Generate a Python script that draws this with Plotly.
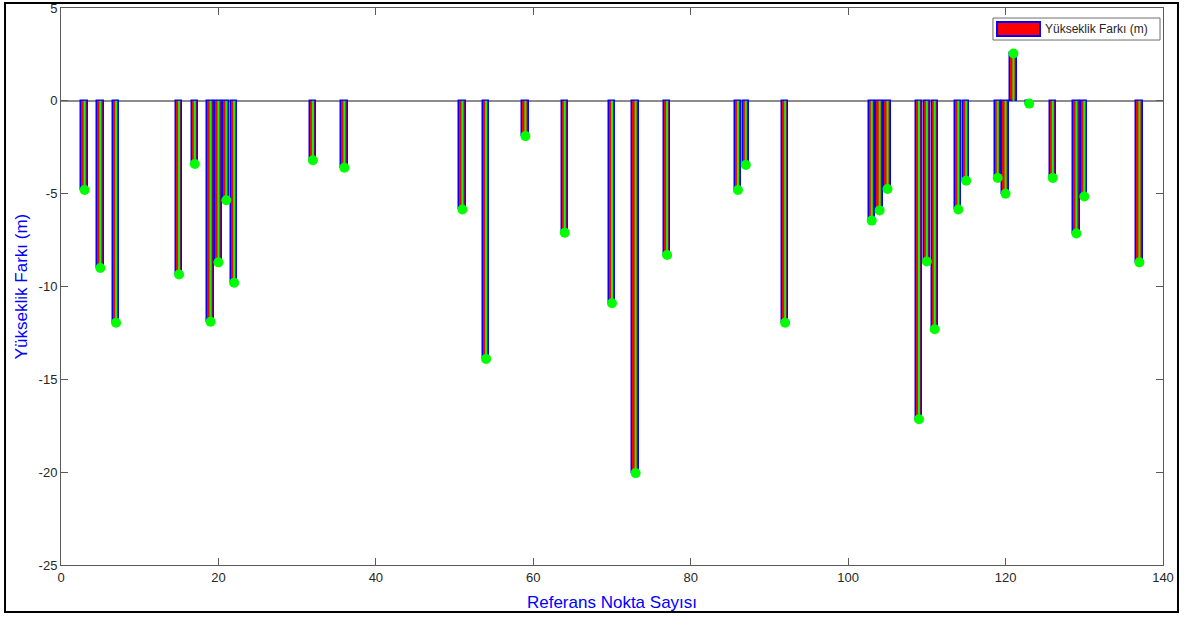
import plotly.graph_objects as go

# Data
point_ids = [3, 5, 7, 15, 17, 19, 20, 21, 22, 32, 36, 51, 54, 59, 64, 70, 73, 77,
             86, 87, 92, 103, 104, 105, 109, 110, 111, 114, 115, 119, 120, 121,
             123, 126, 129, 130, 137]
height_diff = [-4.8, -9.0, -11.95, -9.35, -3.4, -11.9, -8.7, -5.35, -9.8, -3.2, -3.6,
               -5.85, -13.9, -1.9, -7.1, -10.9, -20.05, -8.3, -4.8, -3.45, -11.95,
               -6.45, -5.9, -4.75, -17.15, -8.65, -12.3, -5.85, -4.3, -4.15, -5.0,
               2.55, -0.15, -4.15, -7.15, -5.15, -8.7]

x_ticks = [0, 20, 40, 60, 80, 100, 120, 140]
y_ticks = [5, 0, -5, -10, -15, -20, -25]
y_tick_labels = ["5", "0", "-5", "-10", "-15", "-20", "-25"]

series_name = "Yükseklik Farkı (m)"
x_title = "Referans Nokta Sayısı"
y_title = "Yükseklik Farkı (m)"

FONT = "Liberation Sans, Arial, sans-serif"
BAR_W = 0.8

fig = go.Figure()

fig.add_trace(go.Bar(
    x=point_ids, y=height_diff, width=BAR_W, offset=-BAR_W / 2,
    marker=dict(color="#ff0000", line=dict(color="#0000ff", width=1.5)),
    name=series_name, showlegend=False,
))

# green stems with filled markers at the tips
stem_x, stem_y = [], []
for xi, yi in zip(point_ids, height_diff):
    stem_x += [xi, xi, None]
    stem_y += [0, yi, None]
fig.add_trace(go.Scatter(
    x=stem_x, y=stem_y, mode="lines",
    line=dict(color="#00ff00", width=2), showlegend=False, hoverinfo="skip",
))
fig.add_trace(go.Scatter(
    x=point_ids, y=height_diff, mode="markers",
    marker=dict(color="#00ff00", size=10, line=dict(width=0)),
    showlegend=False,
))

axis_common = dict(
    showline=True, linecolor="#5a5a5a", linewidth=1, mirror="ticks",
    ticks="inside", ticklen=7, tickcolor="#5a5a5a", showgrid=False,
    automargin=False,
    tickfont=dict(family=FONT, size=13, color="#262626"),
)

fig.update_layout(
    width=1187, height=619,
    margin=dict(l=61, r=24, t=8, b=54),
    paper_bgcolor="white", plot_bgcolor="white",
    bargap=0,
    xaxis=dict(range=[0, 140], tickvals=x_ticks, zeroline=False,
               title=dict(text=x_title, font=dict(family=FONT, size=17, color="#0000ff"),
                          standoff=12),
               **axis_common),
    yaxis=dict(range=[-25, 5], tickvals=y_ticks, ticktext=y_tick_labels, zeroline=True,
               zerolinecolor="#8c8c8c", zerolinewidth=1.5,
               title=dict(text=y_title, font=dict(family=FONT, size=17, color="#0000ff"),
                          standoff=6),
               **axis_common),
    showlegend=False,
)

# Figure border
fig.add_shape(type="rect", xref="paper", yref="paper",
              x0=-0.0508, x1=1.0136, y0=-0.0844, y1=1.0090,
              line=dict(color="black", width=2), fillcolor="rgba(0,0,0,0)")

# Legend box (drawn manually to mimic MATLAB legend)
fig.add_shape(type="rect", xref="paper", yref="paper",
              x0=0.8457, x1=0.9973, y0=0.9425, y1=0.9820,
              line=dict(color="#6e6e6e", width=1), fillcolor="white")
fig.add_shape(type="rect", xref="paper", yref="paper",
              x0=0.8494, x1=0.8884, y0=0.9497, y1=0.9749,
              line=dict(color="#0000ff", width=2), fillcolor="#ff0000")
fig.add_annotation(xref="paper", yref="paper", x=0.8915, y=0.9623,
                   text=series_name, showarrow=False, xanchor="left", yanchor="middle",
                   font=dict(family=FONT, size=12, color="#262626"))

fig.write_html("out.html")
